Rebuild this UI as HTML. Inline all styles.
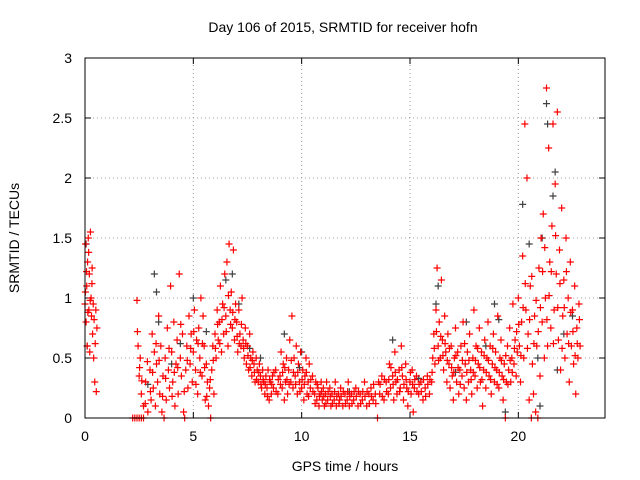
<!DOCTYPE html>
<html>
<head>
<meta charset="utf-8">
<style>
html,body{margin:0;padding:0;background:#fff;}
svg{display:block;font-family:"Liberation Sans",Arial,sans-serif;}
</style>
</head>
<body>
<svg id="chart" width="640" height="480" viewBox="0 0 640 480">
  <rect x="0" y="0" width="640" height="480" fill="#fff"/>
  <text x="343" y="32" font-size="14" text-anchor="middle" fill="#000">Day 106 of 2015, SRMTID for receiver hofn</text>
  <text x="345" y="471" font-size="14" text-anchor="middle" fill="#000">GPS time / hours</text>
  <text x="19" y="238" font-size="14" text-anchor="middle" fill="#000" transform="rotate(-90 19 238)">SRMTID / TECUs</text>
  <g id="grid"></g>
  <g id="ticks"></g>
  <g id="gray-series"></g>
  <g id="red-series"></g>
  <rect x="85" y="58" width="520" height="360" fill="none" stroke="#000" stroke-width="1"/>
</svg>
<script>
const xTicks = [0, 5, 10, 15, 20];
const yTicks = [0, 0.5, 1, 1.5, 2, 2.5, 3];
const yTickLabels = ["0", "0.5", "1", "1.5", "2", "2.5", "3"];
const grayObs = [[0.05,1.45],[0.1,0.6],[3.2,1.2],[3.3,1.05],[3.4,0.8],[4.0,0.45],[5.0,1.0],[6.5,1.15],[6.8,1.2],[7.1,0.95],[8.1,0.5],[9.2,0.7],[10,0.55],[14.2,0.65],[16.2,0.95],[16.3,1.1],[17.6,0.8],[18.5,0.6],[18.9,0.95],[19.4,0.05],[20.2,1.78],[20.5,1.45],[21.1,1.5],[21.3,2.62],[21.35,2.45],[21.7,2.05],[21.6,1.85],[22.1,0.7],[20.9,0.5],[21.0,0.1],[21.8,0.4],[22.5,0.85],[2.9,0.28],[4.4,0.62],[5.6,0.72],[7.6,0.58],[9.9,0.42],[12.2,0.22],[15.4,0.33],[17.1,0.38],[19.1,0.82]];
const redObs = [[0,0.95],[0.03,1.45],[0.05,0.8],[0.08,1.1],[0.1,0.6],[0.12,1.3],[0.15,1.5],[0.18,0.9],[0.2,1.2],[0.22,0.55],[0.25,1.55],[0.28,1.0],[0.3,0.85],[0.33,1.25],[0.35,0.7],[0.38,0.95],[0.4,0.5],[0.45,0.3],[0.5,0.9],[0.52,0.22],[0.55,0.75],
[2.2,0],[2.3,0],[2.4,0],[2.5,0],[2.6,0],[2.7,0],[2.4,0.98],[2.45,0.6],[2.5,0.35],[2.55,0.5],[2.6,0.2],[2.7,0.1],[2.8,0.3],[2.9,0.05],[3.0,0.4],[3.05,0.15],[3.1,0.7],[3.15,0.25],[3.2,0.55],[3.25,0.1],[3.3,0.45],[3.35,0.3],[3.4,0.85],[3.45,0.2],[3.5,0.6],[3.55,0.05],[3.6,0.35],[3.65,0.0],[3.7,0.5],[3.75,0.15],[3.8,0.75],[3.85,0.4],[3.9,0.25],[3.95,1.1],[4.0,0.55],[4.05,0.3],[4.1,0.8],[4.15,0.1],[4.2,0.45],[4.25,0.65],[4.3,0.2],[4.35,1.2],[4.4,0.5],[4.45,0.35],[4.5,0.7],[4.55,0.05],[4.6,0.0],[4.65,0.4],[4.7,0.6],[4.75,0.25],[4.8,0.85],[4.85,0.45],[4.9,0.7],[4.95,0.3],[5.0,0.55],[5.05,0.9],[5.1,0.4],[5.15,0.65],[5.2,0.2],[5.25,0.75],[5.3,0.5],[5.35,1.0],[5.4,0.35],[5.45,0.85],[5.5,0.6],[5.55,0.15],[5.6,0.45],[5.65,0.3],[5.7,0.1],[5.75,0.25],[5.8,0.0],[5.85,0.4],[5.9,0.6],[5.95,0.2],
[6.0,0.7],[6.05,0.5],[6.1,0.9],[6.15,0.65],[6.2,0.8],[6.25,1.1],[6.3,0.55],[6.35,0.95],[6.4,0.7],[6.45,1.2],[6.5,0.85],[6.55,1.3],[6.6,0.6],[6.65,1.45],[6.7,0.9],[6.75,1.05],[6.8,0.75],[6.85,1.4],[6.9,0.65],[6.95,0.95],[7.0,0.8],[7.05,0.55],[7.1,0.9],[7.15,0.7],[7.2,0.6],[7.25,1.0],[7.3,0.65],[7.35,0.5],[7.4,0.75],[7.45,0.45],[7.5,0.6],[7.55,0.4],[7.6,0.7],[7.65,0.5],[7.7,0.35],[7.75,0.55],[7.8,0.45],[7.85,0.3],[7.9,0.5],[7.95,0.4],[8.0,0.3],[8.05,0.45],[8.1,0.35],[8.15,0.25],[8.2,0.4],[8.25,0.3],[8.3,0.2],[8.35,0.35],[8.4,0.25],[8.45,0.4],[8.5,0.15],[8.55,0.3],[8.6,0.2],[8.65,0.35],[8.7,0.25],[8.8,0.4],[8.9,0.2],
[9.0,0.35],[9.05,0.55],[9.1,0.25],[9.15,0.45],[9.2,0.15],[9.25,0.3],[9.3,0.5],[9.35,0.2],[9.4,0.4],[9.45,0.65],[9.5,0.3],[9.55,0.85],[9.6,0.25],[9.65,0.5],[9.7,0.35],[9.75,0.6],[9.8,0.2],[9.85,0.45],[9.9,0.3],[9.95,0.55],[10.0,0.25],[10.05,0.4],[10.1,0.15],[10.15,0.35],[10.2,0.5],[10.25,0.2],[10.3,0.3],[10.35,0.45],[10.4,0.25],[10.5,0.35],[10.6,0.2],[10.65,0.3],[10.7,0.15],[10.75,0.25],[10.8,0.1],[10.85,0.2],[10.9,0.3],[10.95,0.15],[11.0,0.25],[11.05,0.1],[11.1,0.2],[11.15,0.3],[11.2,0.15],[11.3,0.25],[11.35,0.1],[11.4,0.2],[11.5,0.15],[11.55,0.3],[11.6,0.1],[11.7,0.2],[11.75,0.15],[11.8,0.25],[11.9,0.1],[12.0,0.2],[12.1,0.15],[12.15,0.3],[12.2,0.1],[12.3,0.2],[12.4,0.15],[12.5,0.25],[12.6,0.1],[12.7,0.2],[12.8,0.15],[12.9,0.3],[13.0,0.1],[13.1,0.2],[13.2,0.25],[13.3,0.15],[13.4,0.2],[13.5,0.0],[13.55,0.3],[13.6,0.2],[13.7,0.35],[13.8,0.15],[13.9,0.3],
[14.0,0.2],[14.05,0.45],[14.1,0.25],[14.2,0.35],[14.25,0.15],[14.3,0.55],[14.35,0.3],[14.4,0.2],[14.5,0.4],[14.55,0.25],[14.6,0.6],[14.65,0.35],[14.7,0.15],[14.8,0.45],[14.85,0.25],[14.9,0.1],[15.0,0.3],[15.05,0.2],[15.1,0.4],[15.15,0.05],[15.2,0.25],[15.3,0.35],[15.4,0.2],[15.5,0.3],[15.6,0.15],[15.7,0.25],[15.8,0.35],[15.9,0.2],[16.0,0.3],[16.05,0.5],[16.1,0.7],[16.15,0.45],[16.2,0.9],[16.25,1.25],[16.3,0.6],[16.35,0.8],[16.4,0.5],[16.45,1.15],[16.5,0.65],[16.55,0.4],[16.6,0.85],[16.65,0.55],[16.7,0.3],[16.75,0.7],[16.8,0.45],[16.85,0.25],[16.9,0.6],[16.95,0.35],
[17.0,0.15],[17.05,0.5],[17.1,0.75],[17.15,0.3],[17.2,0.55],[17.25,0.2],[17.3,0.4],[17.35,0.6],[17.4,0.35],[17.45,0.8],[17.5,0.25],[17.55,0.45],[17.6,0.15],[17.65,0.55],[17.7,0.3],[17.75,0.7],[17.8,0.4],[17.85,0.2],[17.9,0.5],[17.95,0.9],[18.0,0.35],[18.05,0.6],[18.1,0.25],[18.15,0.45],[18.2,0.75],[18.25,0.3],[18.3,0.55],[18.35,0.1],[18.4,0.4],[18.45,0.65],[18.5,0.25],[18.55,0.5],[18.6,0.8],[18.65,0.35],[18.7,0.6],[18.75,0.2],[18.8,0.45],[18.85,0.7],[18.9,0.3],[18.95,0.55],[19.0,0.4],[19.05,0.85],[19.1,0.25],[19.15,0.5],[19.2,0.65],[19.25,0.35],[19.3,0.15],[19.35,0.45],[19.4,0.0],[19.45,0.3],[19.5,0.6],[19.55,0.4],[19.6,0.75],[19.65,0.3],[19.7,0.5],[19.75,0.95],[19.8,0.45],[19.85,0.65],[19.9,0.35],[19.95,0.55],
[20.0,1.0],[20.05,0.6],[20.1,0.3],[20.15,0.8],[20.2,1.35],[20.25,0.5],[20.3,2.45],[20.35,0.9],[20.4,2.0],[20.45,0.7],[20.5,0.15],[20.55,1.1],[20.6,0.0],[20.65,0.45],[20.7,0.2],[20.75,0.85],[20.8,0.05],[20.85,0.6],[20.9,0.0],[20.95,1.25],[21.0,0.35],[21.05,1.5],[21.1,0.8],[21.15,1.7],[21.2,0.5],[21.25,1.0],[21.3,2.75],[21.35,0.6],[21.4,2.25],[21.45,1.3],[21.5,0.75],[21.55,1.6],[21.6,2.45],[21.65,0.9],[21.7,1.95],[21.75,1.2],[21.8,2.55],[21.85,0.65],[21.9,1.4],[21.95,0.4],[22.0,1.75],[22.05,0.85],[22.1,1.15],[22.15,0.5],[22.2,1.5],[22.25,0.7],[22.3,1.0],[22.35,0.3],[22.4,1.3],[22.45,0.6],[22.5,0.9],[22.55,0.45],[22.6,1.1],[22.65,0.2],[22.7,0.75],[22.75,0.5],[22.8,0.95],[22.85,0.6]];
const redObsExtra = [[0.02,1.05],[0.07,1.22],[0.13,0.88],[0.17,1.38],[0.24,0.98],[0.32,1.12],[0.42,0.82],[0.47,0.62],
[2.42,0.72],[2.52,0.42],[2.62,0.31],[2.78,0.12],[2.88,0.47],[3.02,0.22],[3.12,0.38],[3.28,0.62],[3.42,0.48],[3.58,0.18],[3.72,0.33],[3.88,0.58],[4.02,0.18],[4.12,0.38],[4.28,0.42],[4.42,0.78],[4.58,0.22],[4.72,0.48],[4.88,0.58],[5.02,0.72],[5.12,0.28],[5.22,0.62],[5.32,0.38],[5.42,0.62],[5.52,0.42],[5.62,0.18],[5.78,0.32],[5.92,0.48],
[6.02,0.58],[6.12,0.78],[6.22,0.62],[6.32,0.82],[6.42,0.92],[6.52,0.72],[6.62,1.02],[6.72,0.78],[6.82,0.88],[6.92,0.82],[7.02,0.68],[7.12,0.62],[7.22,0.78],[7.32,0.58],[7.42,0.62],[7.52,0.52],[7.62,0.42],[7.72,0.48],[7.82,0.38],[7.92,0.32],[8.02,0.38],[8.12,0.28],[8.22,0.32],[8.32,0.28],[8.42,0.18],[8.52,0.32],[8.62,0.28],[8.72,0.38],[8.82,0.22],[8.92,0.32],
[9.02,0.28],[9.12,0.38],[9.22,0.42],[9.32,0.32],[9.42,0.28],[9.52,0.48],[9.62,0.38],[9.72,0.28],[9.82,0.38],[9.92,0.22],[10.02,0.32],[10.12,0.28],[10.22,0.38],[10.32,0.18],[10.42,0.32],[10.52,0.22],[10.62,0.12],[10.72,0.28],[10.82,0.18],[10.92,0.22],[11.02,0.18],[11.12,0.12],[11.22,0.22],[11.32,0.18],[11.42,0.12],[11.52,0.22],[11.62,0.18],[11.72,0.12],[11.82,0.18],[11.92,0.22],[12.02,0.12],[12.12,0.22],[12.22,0.18],[12.32,0.12],[12.42,0.22],[12.52,0.18],[12.62,0.22],[12.72,0.12],[12.82,0.22],[12.92,0.18],[13.02,0.22],[13.12,0.12],[13.22,0.18],[13.32,0.28],[13.42,0.12],[13.62,0.28],[13.72,0.18],[13.82,0.32],[13.92,0.22],
[14.02,0.32],[14.12,0.42],[14.22,0.28],[14.32,0.38],[14.42,0.32],[14.52,0.22],[14.62,0.42],[14.72,0.28],[14.82,0.32],[14.92,0.22],[15.02,0.38],[15.12,0.28],[15.22,0.32],[15.32,0.22],[15.42,0.28],[15.52,0.22],[15.62,0.32],[15.72,0.18],[15.82,0.28],[15.92,0.32],[16.02,0.38],[16.12,0.58],[16.22,0.72],[16.32,0.48],[16.42,0.68],[16.52,0.52],[16.62,0.62],[16.72,0.48],[16.82,0.58],[16.92,0.42],
[17.02,0.38],[17.12,0.52],[17.22,0.42],[17.32,0.28],[17.42,0.48],[17.52,0.62],[17.62,0.38],[17.72,0.48],[17.82,0.32],[17.92,0.38],[18.02,0.48],[18.12,0.58],[18.22,0.42],[18.32,0.32],[18.42,0.52],[18.52,0.38],[18.62,0.48],[18.72,0.32],[18.82,0.58],[18.92,0.42],[19.02,0.28],[19.12,0.38],[19.22,0.48],[19.32,0.32],[19.42,0.52],[19.52,0.28],[19.62,0.48],[19.72,0.38],[19.82,0.58],[19.92,0.72],
[20.02,0.78],[20.12,0.52],[20.22,0.92],[20.32,1.12],[20.42,0.58],[20.52,0.82],[20.62,1.18],[20.72,0.62],[20.82,0.98],[20.92,0.72],[21.02,0.92],[21.12,1.22],[21.22,1.42],[21.32,0.82],[21.42,1.02],[21.52,1.22],[21.62,0.62],[21.72,1.52],[21.82,0.92],[21.92,1.12],[22.02,0.58],[22.12,0.92],[22.22,1.22],[22.32,0.62],[22.42,0.88],[22.52,0.72],[22.62,0.52],[22.72,0.62],[22.82,0.82]];

const NS = "http://www.w3.org/2000/svg";
const X0 = 85, X1 = 605, Y0 = 418, Y1 = 58;
const xMax = 24, yMax = 3;
function xScale(v){ return X0 + (X1 - X0) * v / xMax; }
function yScale(v){ return Y0 - (Y0 - Y1) * v / yMax; }
function mk(tag, attrs){ const e = document.createElementNS(NS, tag); for (const k in attrs) e.setAttribute(k, attrs[k]); return e; }

const grid = document.getElementById('grid');
const ticks = document.getElementById('ticks');
xTicks.forEach(function(t){
  const x = xScale(t);
  if (t > 0) {
    const g = mk('line', {x1:x, y1:Y0, x2:x, y2:Y1, stroke:'#a0a0a0', 'stroke-width':1, 'stroke-dasharray':'1,3'});
    
    
    grid.appendChild(g);
  }
  const tk = mk('line', {x1:x, y1:Y0, x2:x, y2:Y0-6, stroke:'#000'});
  
  
  ticks.appendChild(tk);
  const tk2 = mk('line', {x1:x, y1:Y1, x2:x, y2:Y1+6, stroke:'#000'});
  
  
  ticks.appendChild(tk2);
  const lb = mk('text', {x:x, y:Y0+23, 'font-size':14, 'text-anchor':'middle', fill:'#000'});
  lb.textContent = String(t);
  
  
  ticks.appendChild(lb);
});
yTicks.forEach(function(t, i){
  const y = yScale(t);
  if (t > 0 && t < yMax) {
    const g = mk('line', {x1:X0, y1:y, x2:X1, y2:y, stroke:'#a0a0a0', 'stroke-width':1, 'stroke-dasharray':'1,3'});
    
    
    grid.appendChild(g);
  }
  const tk = mk('line', {x1:X0, y1:y, x2:X0+6, y2:y, stroke:'#000'});
  
  
  ticks.appendChild(tk);
  const tk2 = mk('line', {x1:X1, y1:y, x2:X1-6, y2:y, stroke:'#000'});
  
  
  ticks.appendChild(tk2);
  const lb = mk('text', {x:X0-13, y:y+5, 'font-size':14, 'text-anchor':'end', fill:'#000'});
  lb.textContent = yTickLabels[i];
  
  
  ticks.appendChild(lb);
});

function plus(x, y){
  return 'M' + (x-3.5) + ' ' + y + 'H' + (x+3.5) + 'M' + x + ' ' + (y-3.5) + 'V' + (y+3.5);
}
function drawSeries(id, data, color, name){
  const g = document.getElementById(id);
  data.forEach(function(d){
    const p = mk('path', {d: plus(xScale(d[0]), yScale(d[1])), stroke: color, 'stroke-width': 1.2, fill: 'none'});
    
    
    g.appendChild(p);
  });
}
drawSeries('gray-series', grayObs, '#404040', 'gray-point');
drawSeries('red-series', redObs, '#ff0000', 'red-point');
drawSeries('red-series', redObsExtra, '#ff0000', 'red-point');
</script>
</body>
</html>
